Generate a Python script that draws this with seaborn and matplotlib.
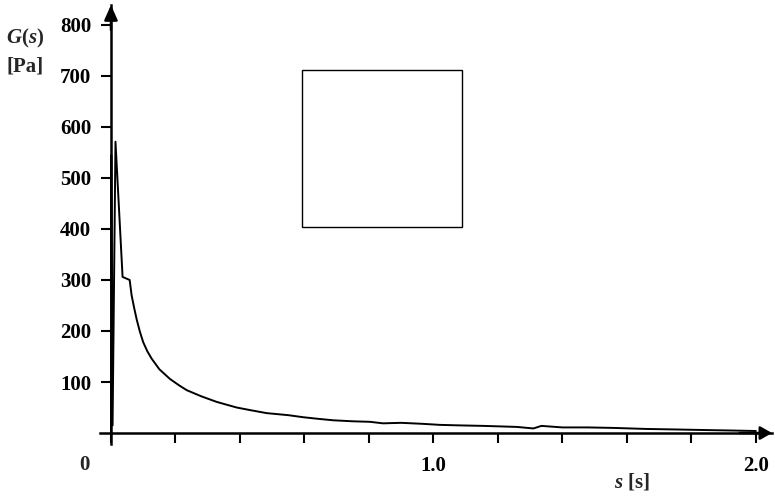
import matplotlib
matplotlib.use("Agg")
import matplotlib.pyplot as plt
import seaborn as sns
import pandas as pd
from matplotlib.patches import Rectangle

# Relaxation modulus G(s) sampled over time s
s_values = [0.0, 0.001, 0.005, 0.014, 0.036, 0.058, 0.064, 0.072, 0.080, 0.090,
            0.100, 0.113, 0.126, 0.150, 0.183, 0.210, 0.235, 0.280, 0.328, 0.390,
            0.431, 0.483, 0.550, 0.596, 0.640, 0.689, 0.750, 0.803, 0.844, 0.900,
            0.968, 1.020, 1.080, 1.155, 1.258, 1.310, 1.335, 1.400, 1.480, 1.560,
            1.660, 1.750, 1.830, 1.920, 2.000]
G_values = [0, 545, 15, 571, 306, 300, 270, 245, 222, 198,
            178, 160, 146, 125, 106, 94, 84, 72, 61, 50,
            45, 39, 35, 31, 28, 25, 23, 22, 19, 20,
            18, 16, 15, 14, 12, 9, 14, 11, 11, 10,
            8, 7, 6, 5, 4]

y_ticks = [100, 200, 300, 400, 500, 600, 700, 800]
x_ticks = [0.0, 0.2, 0.4, 0.6, 0.8, 1.0, 1.2, 1.4, 1.6, 1.8, 2.0]
x_tick_labels = ["", "", "", "", "", "1.0", "", "", "", "", "2.0"]

# Empty frame drawn inside the plot (s range, G range)
box_s = [0.592, 1.088]
box_G = [404, 711]

sns.set_theme(style="white")
plt.rcParams["font.family"] = ["Liberation Serif", "DejaVu Serif"]
plt.rcParams["font.weight"] = "bold"
plt.rcParams["mathtext.fontset"] = "custom"
plt.rcParams["mathtext.it"] = "Liberation Serif:italic:bold"
plt.rcParams["mathtext.rm"] = "Liberation Serif:bold"

fig = plt.figure(figsize=(7.75, 4.97), dpi=100)
ax = fig.add_axes([100 / 775, 53 / 497, 672 / 775, 439 / 497])

df = pd.DataFrame({"s": s_values, "G": G_values})
sns.lineplot(data=df, x="s", y="G", ax=ax, color="black", linewidth=1.4,
             estimator=None, sort=False)

ax.add_patch(Rectangle((box_s[0], box_G[0]), box_s[1] - box_s[0], box_G[1] - box_G[0],
                       fill=False, edgecolor="black", linewidth=1.0))

ax.set_xlim(-0.034, 2.05)
ax.set_ylim(-21.5, 839)

for side in ["top", "right"]:
    ax.spines[side].set_visible(False)
ax.spines["left"].set_position(("data", 0))
ax.spines["bottom"].set_position(("data", 0))
for side in ["left", "bottom"]:
    ax.spines[side].set_linewidth(1.8)
    ax.spines[side].set_color("black")

# Arrow heads at the ends of both axes
ax.annotate("", xy=(0, 839), xytext=(0, 790),
            arrowprops=dict(arrowstyle="-|>,head_length=0.9,head_width=0.4",
                            color="black", lw=1.8, mutation_scale=10,
                            shrinkA=0, shrinkB=0), annotation_clip=False)
ax.annotate("", xy=(2.05, 0), xytext=(1.95, 0),
            arrowprops=dict(arrowstyle="-|>,head_length=0.7,head_width=0.4",
                            color="black", lw=1.8, mutation_scale=10,
                            shrinkA=0, shrinkB=0), annotation_clip=False)

ax.set_yticks(y_ticks)
ax.set_yticklabels([str(v) for v in y_ticks])
ax.set_xticks(x_ticks)
ax.set_xticklabels(x_tick_labels)
ax.tick_params(axis="both", direction="out", length=7.2, width=1.5,
               color="black", labelsize=15, labelcolor="black",
               bottom=True, left=True, top=False, right=False)
ax.tick_params(axis="y", pad=7)
ax.tick_params(axis="x", pad=9)
for lab in ax.get_xticklabels() + ax.get_yticklabels():
    lab.set_fontweight("bold")

ax.set_xlabel("")
ax.set_ylabel("")

# Origin label, set left of the axis crossing
ax.annotate("0", xy=(-0.081, 0), xytext=(0, -22.7), textcoords="offset points",
            ha="center", va="center", fontsize=15, fontweight="bold",
            annotation_clip=False)

fig.text(25 / 775, 1 - 38 / 497, "$G$($s$)", ha="center", va="center",
         fontsize=15, fontweight="bold")
fig.text(25.5 / 775, 1 - 67 / 497, "[Pa]", ha="center", va="center",
         fontsize=15, fontweight="bold")
fig.text(632 / 775, 1 - 482 / 497, "$s$ [s]", ha="center", va="center",
         fontsize=15, fontweight="bold")

fig.savefig("out.png", dpi=100, facecolor="white")
